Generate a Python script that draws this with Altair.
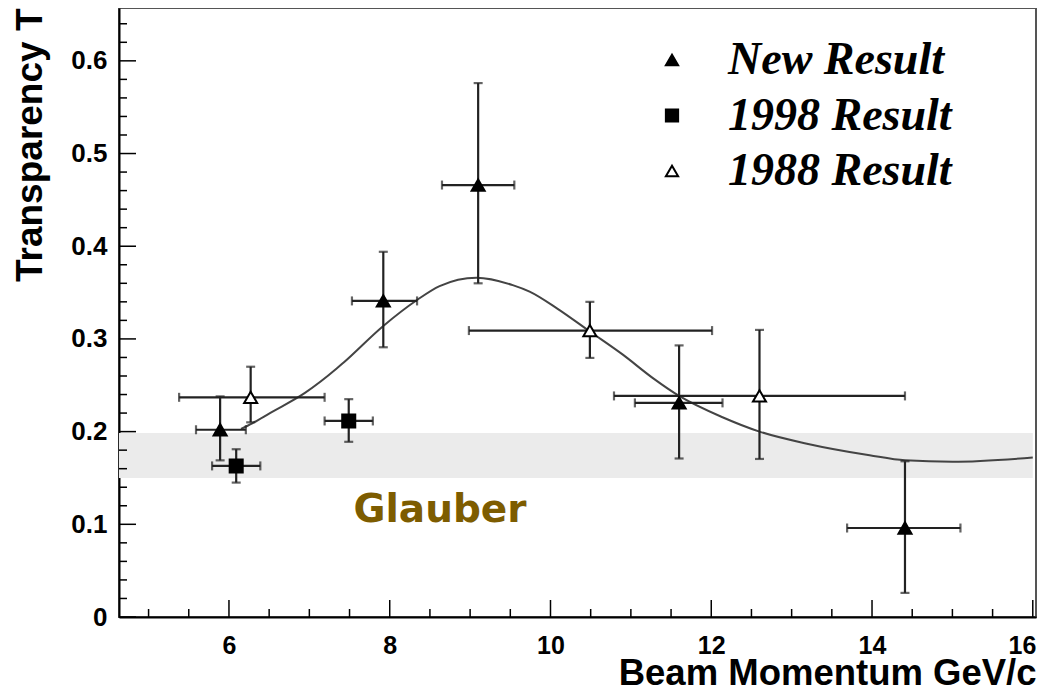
import altair as alt
import pandas as pd

# ---------------- data ----------------
# New Result (filled triangles)
new_x   = [5.89, 7.92, 9.10, 11.60, 14.41]
new_y   = [0.202, 0.341, 0.466, 0.231, 0.096]
new_xlo = [5.59, 7.53, 8.65, 11.05, 13.69]
new_xhi = [6.21, 8.34, 9.55, 12.14, 15.10]
new_ylo = [0.169, 0.291, 0.360, 0.171, 0.026]
new_yhi = [0.238, 0.394, 0.576, 0.293, 0.168]

# 1998 Result (filled squares)
r98_x   = [6.09, 7.49]
r98_y   = [0.163, 0.2115]
r98_xlo = [5.79, 7.19]
r98_xhi = [6.39, 7.79]
r98_ylo = [0.145, 0.189]
r98_yhi = [0.181, 0.235]

# 1988 Result (open triangles)
r88_x   = [6.27, 10.49, 12.60]
r88_y   = [0.237, 0.309, 0.2385]
r88_xlo = [5.38, 8.985, 10.79]
r88_xhi = [7.19, 12.01, 14.41]
r88_ylo = [0.210, 0.2795, 0.1705]
r88_yhi = [0.270, 0.340, 0.3097]

# theory curve
curve_x = [6.15, 6.29, 6.51, 6.95, 7.34, 7.42, 7.92, 8.34, 8.62, 9.08, 9.53, 9.74,
           10.08, 10.49, 10.90, 11.27, 11.60, 12.14, 12.60, 13.19, 13.97,
           14.41, 15.00, 16.00]
curve_y = [0.203, 0.209, 0.220, 0.242, 0.268, 0.274, 0.314, 0.342, 0.357, 0.366,
           0.358, 0.351, 0.333, 0.308, 0.283, 0.258, 0.2385, 0.2155, 0.200, 0.187,
           0.1745, 0.169, 0.1675, 0.172]

# Glauber band
band_lo, band_hi = 0.150, 0.1986
band_x_end = 16.0

series_names = ["New Result", "1998 Result", "1988 Result"]
series_shape = ["triangle-up", "square", "triangle-up"]
series_fill = ["black", "black", "white"]

# axis ticks
x_major = [6, 8, 10, 12, 14, 16]
x_minor = [5, 5.5, 6.5, 7, 7.5, 8.5, 9, 9.5, 10.5, 11, 11.5, 12.5, 13, 13.5, 14.5, 15, 15.5]
y_major = [0, 0.1, 0.2, 0.3, 0.4, 0.5, 0.6]
y_minor = [round(0.02 * i, 2) for i in range(1, 33) if i % 5 != 0]

X_MIN, X_MAX = 4.632, 16.04
Y_MIN, Y_MAX = 0.0, 0.657
W, H = 917, 609

# ---------------- build tables ----------------
rows = []
for name, xs_, ys_, xl, xh, yl, yh in [
    ("New Result", new_x, new_y, new_xlo, new_xhi, new_ylo, new_yhi),
    ("1998 Result", r98_x, r98_y, r98_xlo, r98_xhi, r98_ylo, r98_yhi),
    ("1988 Result", r88_x, r88_y, r88_xlo, r88_xhi, r88_ylo, r88_yhi),
]:
    for i in range(len(xs_)):
        rows.append(dict(series=name, x=xs_[i], y=ys_[i], xlo=xl[i], xhi=xh[i],
                         ylo=yl[i], yhi=yh[i]))
df = pd.DataFrame(rows)
curve_df = pd.DataFrame({"x": curve_x, "y": curve_y})
xmaj_df = pd.DataFrame({"v": x_major})
xmin_df = pd.DataFrame({"v": x_minor})
ymaj_df = pd.DataFrame({"v": y_major})
ymin_df = pd.DataFrame({"v": y_minor})

FONT = "Liberation Sans"
xs = alt.Scale(domain=[X_MIN, X_MAX], nice=False, zero=False)
ys = alt.Scale(domain=[Y_MIN, Y_MAX], nice=False, zero=False)
x_axis = alt.Axis(values=x_major, format="d", ticks=False, grid=False, domain=True,
                  domainColor="black", domainWidth=2,
                  labelFont=FONT, labelFontWeight="bold", labelFontSize=25,
                  labelPadding=16, labelColor="black",
                  labelFlush=6, labelFlushOffset=3,
                  title="Beam Momentum GeV/c", titleFont=FONT, titleFontWeight="bold",
                  titleFontSize=36.5, titleAnchor="end", titleAlign="right",
                  titleX=W, titleY=67, titleBaseline="alphabetic", titleColor="black")
y_axis = alt.Axis(values=y_major, format="~g", ticks=False, grid=False, domain=True,
                  domainColor="black", domainWidth=2,
                  labelFont=FONT, labelFontWeight="bold", labelFontSize=26,
                  labelPadding=12, labelColor="black", labelFlush=False,
                  title="Transparency T", titleFont=FONT, titleFontWeight="bold",
                  titleFontSize=37, titleAngle=-90, titleAlign="right",
                  titleBaseline="middle", titleX=-89, titleY=0, titleColor="black")


def X(f):
    return alt.X(f"{f}:Q", scale=xs, axis=x_axis)


def Y(f):
    return alt.Y(f"{f}:Q", scale=ys, axis=y_axis)


EB = "#222222"

band = alt.Chart(pd.DataFrame({"lo": [band_lo], "hi": [band_hi]})).mark_rect(
    color="#ebebeb").encode(
    x=alt.X(datum=X_MIN, scale=xs, axis=x_axis),
    x2=alt.X2(datum=band_x_end),
    y=Y("lo"), y2="hi")

curve = alt.Chart(curve_df).mark_line(color="#444444", strokeWidth=2,
                                      interpolate="monotone").encode(x=X("x"), y=Y("y"))

hbar = alt.Chart(df).mark_rule(color=EB, strokeWidth=2.2).encode(
    x=X("xlo"), x2="xhi", y=Y("y"))
vbar = alt.Chart(df).mark_rule(color=EB, strokeWidth=2.2).encode(
    x=X("x"), y=Y("ylo"), y2="yhi")

cap_y_lo = alt.Chart(df).mark_tick(orient="horizontal", size=9, thickness=2.2, color=EB).encode(
    x=X("x"), y=Y("ylo"))
cap_y_hi = alt.Chart(df).mark_tick(orient="horizontal", size=9, thickness=2.2, color=EB).encode(
    x=X("x"), y=Y("yhi"))
cap_x_lo = alt.Chart(df).mark_tick(orient="vertical", size=9, thickness=2.2, color=EB).encode(
    x=X("xlo"), y=Y("y"))
cap_x_hi = alt.Chart(df).mark_tick(orient="vertical", size=9, thickness=2.2, color=EB).encode(
    x=X("xhi"), y=Y("y"))

legend = alt.Legend(title=None, orient="none", legendX=530, legendY=29, padding=0,
                    labelFont="Liberation Serif", labelFontStyle="italic",
                    labelFontWeight="bold", labelFontSize=46, labelColor="black",
                    labelLimit=600, labelOffset=33, rowPadding=9.5, symbolSize=150,
                    symbolStrokeWidth=2)

points = alt.Chart(df).mark_point(filled=False, size=170, strokeWidth=2, opacity=1).encode(
    x=X("x"), y=Y("y"),
    shape=alt.Shape("series:N", scale=alt.Scale(domain=series_names, range=series_shape),
                    legend=legend),
    fill=alt.Fill("series:N", scale=alt.Scale(domain=series_names, range=series_fill),
                  legend=legend),
    stroke=alt.Stroke("series:N", scale=alt.Scale(domain=series_names,
                                                  range=["black", "black", "black"]),
                      legend=legend),
)

# inner tick marks (ROOT style)
xt_major = alt.Chart(xmaj_df).mark_rule(color="black", strokeWidth=1.5).encode(
    x=X("v"), y=alt.value(H), y2=alt.value(H - 17))
xt_minor = alt.Chart(xmin_df).mark_rule(color="black", strokeWidth=1.5).encode(
    x=X("v"), y=alt.value(H), y2=alt.value(H - 8))
yt_major = alt.Chart(ymaj_df).mark_rule(color="black", strokeWidth=1.5).encode(
    y=Y("v"), x=alt.value(0), x2=alt.value(17))
yt_minor = alt.Chart(ymin_df).mark_rule(color="black", strokeWidth=1.5).encode(
    y=Y("v"), x=alt.value(0), x2=alt.value(8))

glauber = alt.Chart(pd.DataFrame({"t": ["Glauber"]})).mark_text(
    font="DejaVu Sans", fontWeight="bold", fontSize=39, color="#7d5c00",
    align="center", baseline="middle").encode(
    text="t:N", x=alt.value(321), y=alt.value(502))

chart = alt.layer(
    band, curve, hbar, vbar, cap_y_lo, cap_y_hi, cap_x_lo, cap_x_hi,
    xt_major, xt_minor, yt_major, yt_minor, glauber, points
).properties(
    width=W, height=H,
    autosize="none",
    padding={"left": 111, "top": 0, "right": 3, "bottom": 68},
).configure_view(stroke="#555555", strokeWidth=2)

chart.save("out.html", embed_options={"renderer": "svg", "actions": False})
